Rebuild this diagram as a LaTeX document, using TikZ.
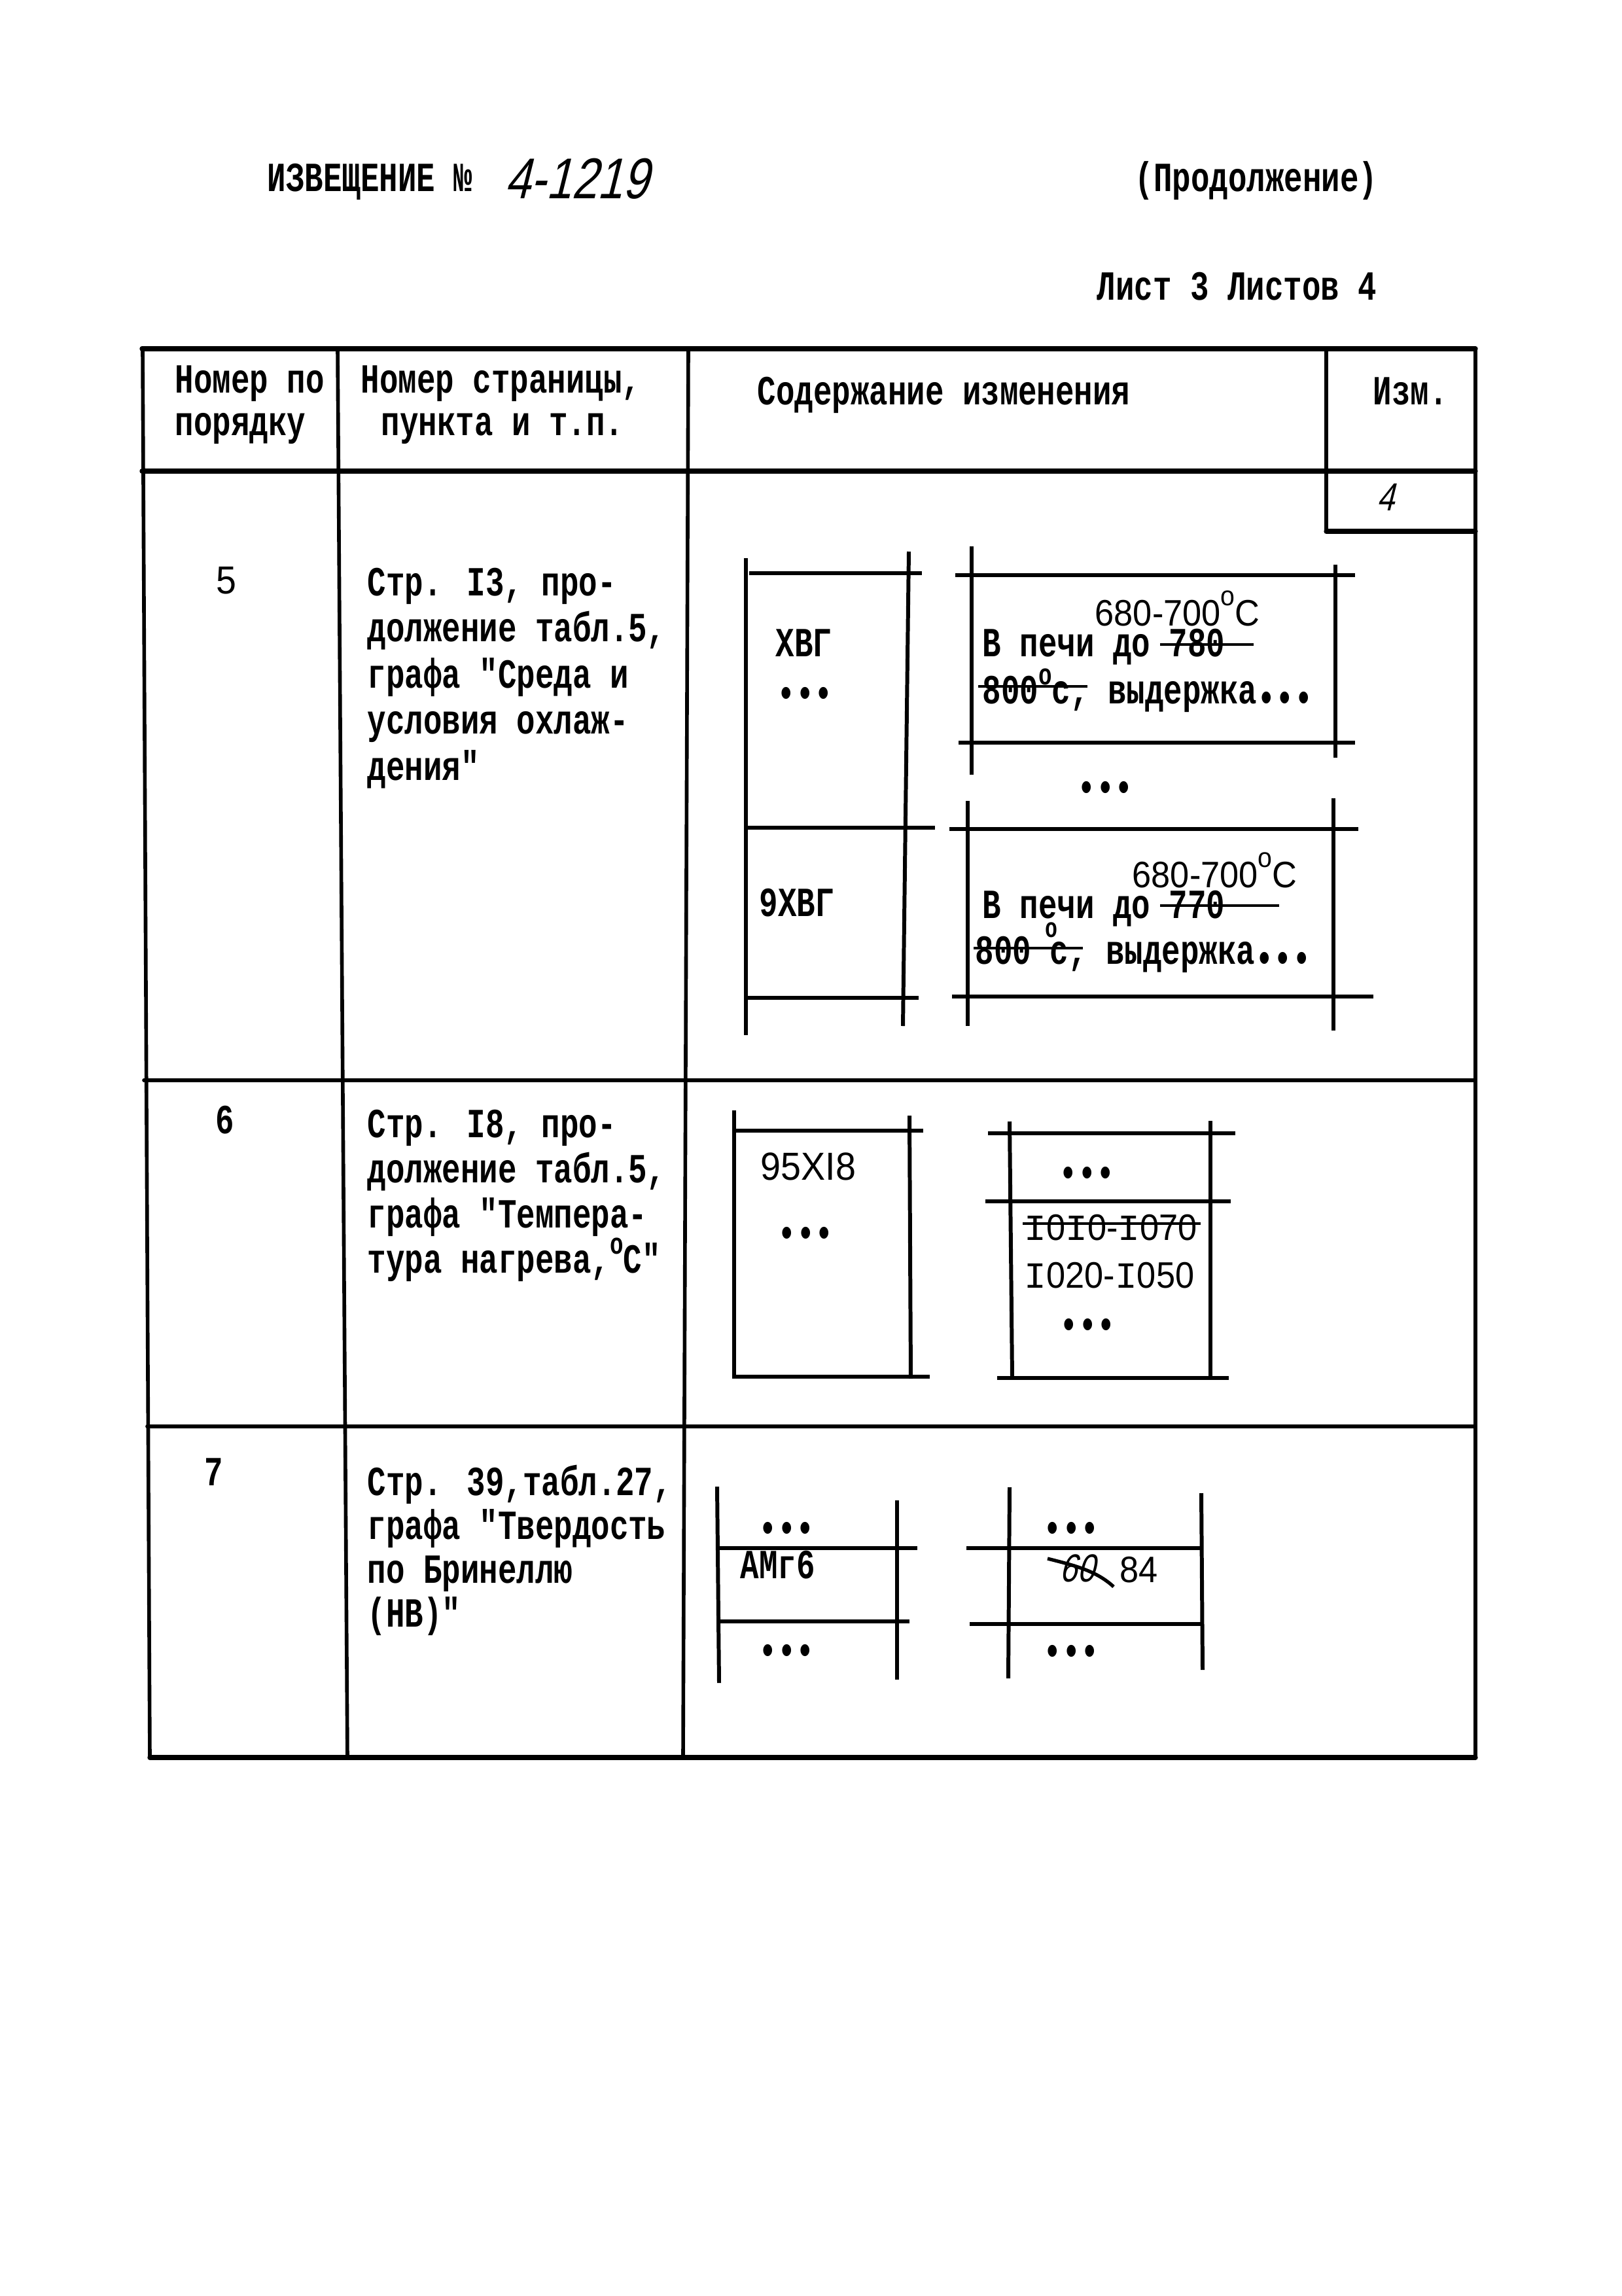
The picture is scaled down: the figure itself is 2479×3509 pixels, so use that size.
\documentclass[tikz,border=0pt]{standalone}
\usepackage{fontspec}
\usepackage{graphicx}
\newfontfamily\tw[FakeStretch=0.75]{Liberation Mono}
\newfontfamily\mono{Liberation Mono}
\newfontfamily\sns[FakeStretch=0.93]{Liberation Sans}
\newfontfamily\hand[FakeStretch=0.8,FakeSlant=0.25]{Liberation Sans}
\newcommand\tsup{\raisebox{0.45em}{\fontsize{13}{13}\selectfont o}}
\newcommand\ssup{\raisebox{0.55em}{\fontsize{12}{12}\selectfont o}}
\newcommand\mI{{\mono I}}
\newcommand\bdots{\raisebox{-3.6pt}{•••}}
\begin{document}
\begin{tikzpicture}[x=0.01cm,y=-0.01cm,
 tt/.style={inner sep=0pt,anchor=base west,text height=10.5pt,text depth=2.5pt,font=\tw\bfseries\fontsize{18}{18}\selectfont},
 ss/.style={inner sep=0pt,anchor=base west,text height=11pt,text depth=0pt,font=\sns\fontsize{16}{16}\selectfont},
 hw/.style={inner sep=0pt,anchor=base west,font=\hand\fontsize{25}{25}\selectfont},
 tbl/.style={line width=1.6pt,line cap=round},
 thk/.style={line width=2.1pt,line cap=round},
 dl/.style={line width=1.7pt},
 strk/.style={line width=1.4pt}]
\useasboundingbox (0,0) rectangle (2479,3509);
\fill[white] (0,0) rectangle (2479,3509);

% ---------- heading ----------
\node[tt] (title) at (408,292) {ИЗВЕЩЕНИЕ №};
\node[hw] (num) at (771,303) {4-1219};
\node[tt] (cont) at (1734,292) {(Продолжение)};
\node[tt] (sheet) at (1676,458) {Лист 3 Листов 4};

% ---------- table frame ----------
\draw[thk] (217,533) -- (2255,533);
\draw[thk] (217,720) -- (2255,720);
\draw[tbl] (2027,533) -- (2027,812);
\draw[thk] (2027,812) -- (2255,812);
\draw[tbl] (218,533) -- (229,2686);
\draw[tbl] (516,533) -- (531,2686);
\draw[tbl] (1052,533) -- (1044,2686);
\draw[tbl] (2255,533) -- (2255,2686);
\draw[tbl] (220,1651) -- (2255,1651);
\draw[tbl] (225,2180) -- (2255,2180);
\draw[thk] (229,2686) -- (2255,2686);

% ---------- header texts ----------
\node[tt] (h1a) at (267,600) {Номер по};
\node[tt] (h1b) at (267,665) {порядку};
\node[tt] (h2a) at (551,600) {Номер страницы,};
\node[tt] (h2b) at (582,665) {пункта и т.п.};
\node[tt] (h3) at (1157,618) {Содержание изменения};
\node[tt] (h4) at (2098,618) {Изм.};
\node[hw,font=\hand\fontsize{17}{17}\selectfont] (izm) at (2104,780) {4};

% ---------- row 5 ----------
\node[ss,font=\sns\fontsize{17}{17}\selectfont] (n5) at (330,907) {5};
\node[tt] (r5a) at (561,910) {Стр. I3, про-};
\node[tt] (r5b) at (561,980) {должение табл.5,};
\node[tt] (r5c) at (561,1051) {графа "Среда и};
\node[tt] (r5d) at (561,1121) {условия охлаж-};
\node[tt] (r5e) at (561,1192) {дения"};

% left sub-table
\draw[dl] (1140,853) -- (1140,1582);
\draw[dl] (1389,843) -- (1380,1568);
\draw[dl] (1145,876) -- (1409,876);
\draw[dl] (1138,1265) -- (1429,1265);
\draw[dl] (1138,1525) -- (1404,1525);
\node[tt] (xvg) at (1185,1003) {ХВГ};
\node[tt] (d5a) at (1187,1068) {\bdots};
\node[tt] (xvg9) at (1160,1400) {9ХВГ};

% right sub-table
\draw[dl] (1485,835) -- (1485,1184);
\draw[dl] (1479,1224) -- (1479,1568);
\draw[dl] (2041,863) -- (2041,1158);
\draw[dl] (2038,1220) -- (2038,1575);
\draw[dl] (1460,879) -- (2071,879);
\draw[dl] (1465,1135) -- (2071,1135);
\draw[dl] (1451,1267) -- (2076,1267);
\draw[dl] (1455,1523) -- (2099,1523);

\node[ss] (t1) at (1673,956) {680-700\ssup C};
\node[tt] (p1) at (1501,1003) {В печи до 780};
\draw[strk] (1773,985) -- (1916,985);
\node[tt] (q1) at (1501,1075) {800\tsup с, выдержка\bdots};
\draw[strk] (1495,1049) -- (1662,1049);

\node[tt] (d5b) at (1646,1212) {\bdots};

\node[ss] (t2) at (1730,1356) {680-700\ssup C};
\node[tt] (p2) at (1501,1403) {В печи до 770};
\draw[strk] (1773,1384) -- (1955,1384);
\node[inner sep=0pt,font=\tw\bfseries\fontsize{12}{12}\selectfont] (o2) at (1607,1421) {o};
\node[tt] (q2) at (1490,1473) {800 с, выдержка\bdots};
\draw[strk] (1488,1449) -- (1655,1449);

% ---------- row 6 ----------
\node[tt] (n6) at (329,1732) {6};
\node[tt] (r6a) at (561,1738) {Стр. I8, про-};
\node[tt] (r6b) at (561,1807) {должение табл.5,};
\node[tt] (r6c) at (561,1876) {графа "Темпера-};
\node[tt] (r6d) at (561,1945) {тура нагрева,\tsup С"};

\draw[dl] (1122,1697) -- (1122,2107);
\draw[dl] (1390,1705) -- (1392,2107);
\draw[dl] (1120,1728) -- (1411,1728);
\draw[dl] (1119,2104) -- (1421,2104);
\node[ss,font=\sns\fontsize{17}{17}\selectfont] (st) at (1162,1803) {95XI8};
\node[tt] (d6a) at (1188,1893) {\bdots};

\draw[dl] (1543,1714) -- (1547,2105);
\draw[dl] (1850,1713) -- (1850,2105);
\draw[dl] (1510,1732) -- (1888,1732);
\draw[dl] (1506,1836) -- (1881,1836);
\draw[dl] (1524,2106) -- (1878,2106);
\node[tt] (d6b) at (1618,1801) {\bdots};
\node[ss] (old6) at (1565,1895) {\mI0\mI0-\mI070};
\draw[strk] (1563,1870) -- (1835,1870);
\node[ss] (new6) at (1565,1968) {\mI020-\mI050};
\node[tt] (d6c) at (1619,2033) {\bdots};

% ---------- row 7 ----------
\node[tt] (n7) at (312,2270) {7};
\node[tt] (r7a) at (561,2285) {Стр. 39,табл.27,};
\node[tt] (r7b) at (561,2352) {графа "Твердость};
\node[tt] (r7c) at (561,2419) {по Бринеллю};
\node[tt] (r7d) at (561,2486) {(НВ)"};

\draw[dl] (1096,2272) -- (1099,2572);
\draw[dl] (1371,2293) -- (1371,2567);
\draw[dl] (1099,2366) -- (1402,2366);
\draw[dl] (1099,2478) -- (1390,2478);
\node[tt] (d7a) at (1159,2344) {\bdots};
\node[tt] (amg) at (1131,2412) {АМг6};
\node[tt] (d7b) at (1159,2531) {\bdots};

\draw[dl] (1543,2273) -- (1541,2565);
\draw[dl] (1836,2282) -- (1838,2552);
\draw[dl] (1477,2366) -- (1838,2366);
\draw[dl] (1482,2482) -- (1839,2482);
\node[tt] (d7c) at (1594,2344) {\bdots};
\node[hw,font=\hand\fontsize{17}{17}\selectfont] (old7) at (1619,2417) {60};
\draw[line width=1.5pt] (1601,2382) .. controls (1640,2392) and (1675,2400) .. (1702,2425);
\node[ss] (new7) at (1711,2418) {84};
\node[tt] (d7d) at (1594,2532) {\bdots};
\end{tikzpicture}
\end{document}
